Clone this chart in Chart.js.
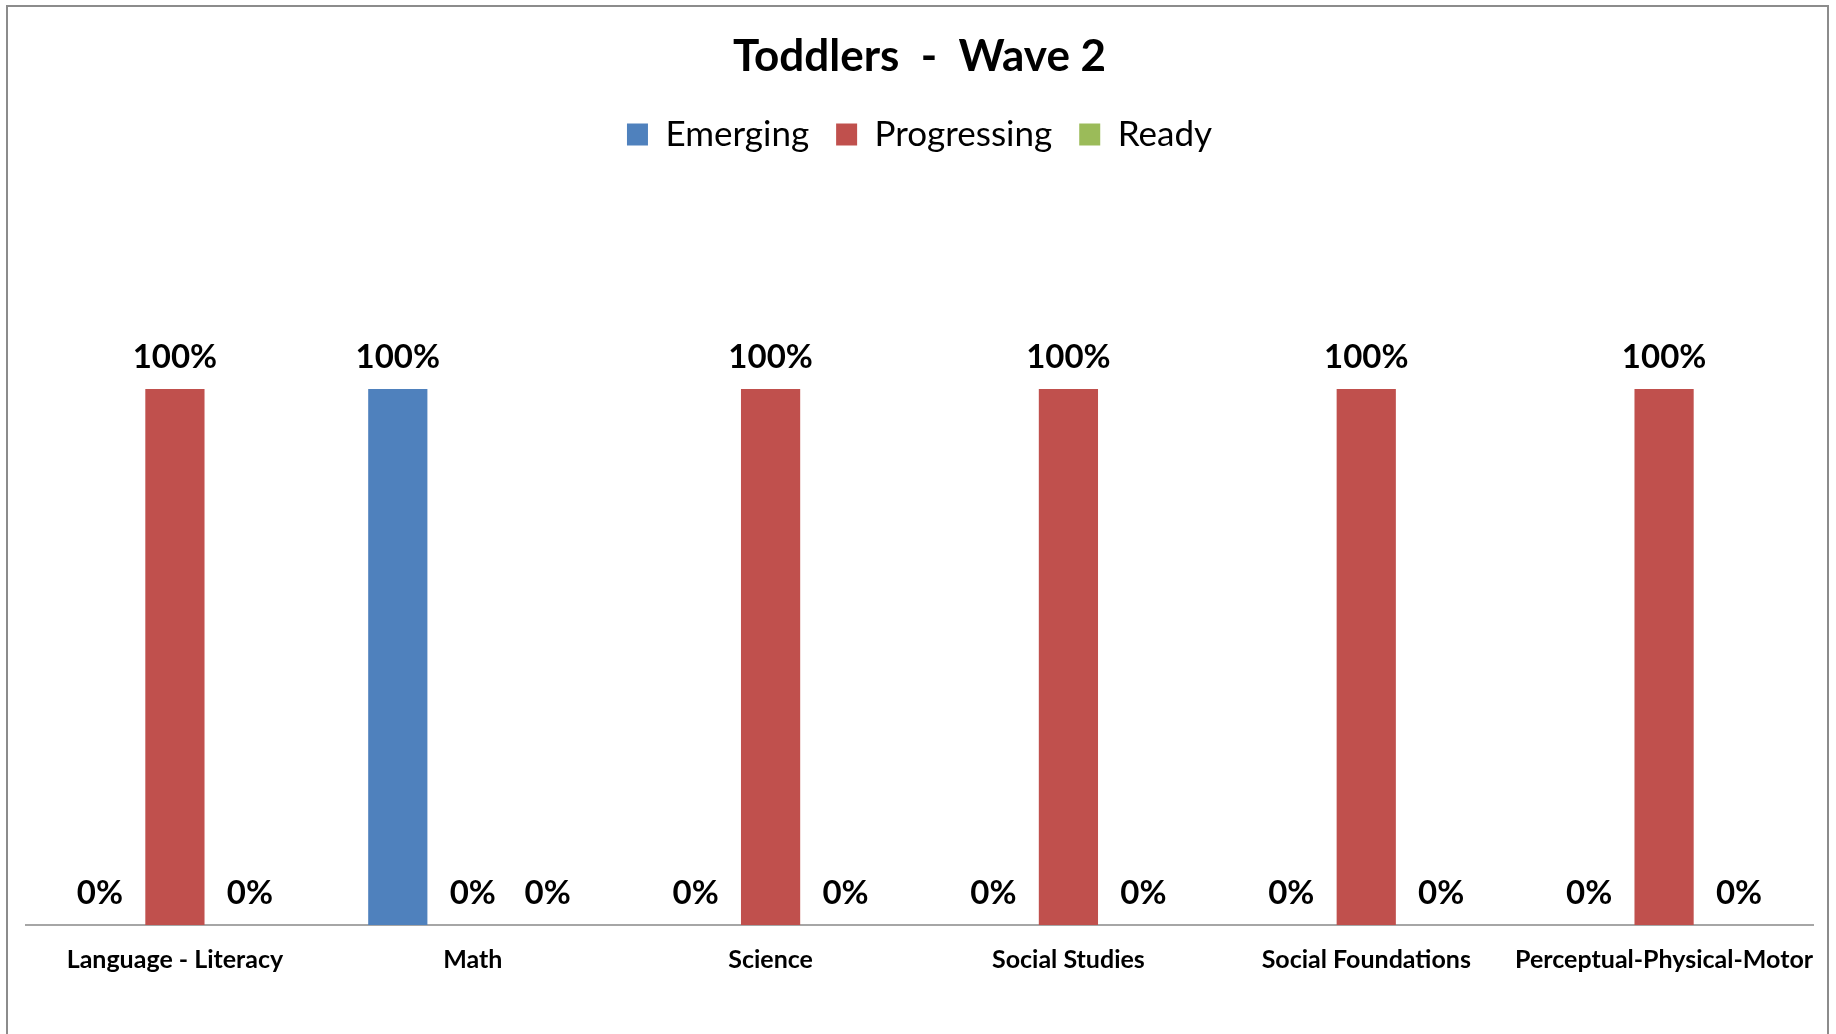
<!DOCTYPE html>
<html lang="en">
<head>
    <meta charset="UTF-8">
    <title>Toddlers - Wave 2</title>
    <script src="https://cdn.jsdelivr.net/npm/chart.js"></script>
    <style>
        * { font-family: 'Lato', sans-serif; }
        html, body { margin: 0; padding: 0; background: #fff; }
        #chartContainer {
            position: relative;
            width: 1836px;
            height: 1034px;
        }
        #frame {
            position: absolute;
            left: 6px; top: 5px;
            width: 1819px; height: 1040px;
            border: 2px solid #8c8c8c;
            pointer-events: none;
        }
    </style>
</head>
<body>
    <div id="chartContainer">
        <canvas id="waveChart"></canvas>
        <div id="frame"></div>
    </div>

    <script>
        var categories = ['Language - Literacy', 'Math', 'Science', 'Social Studies', 'Social Foundations', 'Perceptual-Physical-Motor'];
        var emerging    = [0, 1, 0, 0, 0, 0];
        var progressing = [1, 0, 1, 1, 1, 1];
        var ready       = [0, 0, 0, 0, 0, 0];

        // percent labels over every bar, 0% ones included
        var barLabels = {
            id: 'barLabels',
            afterDatasetsDraw(chart) {
                var ctx = chart.ctx;
                ctx.save();
                ctx.font = 'bold 33px Lato';
                ctx.fillStyle = '#000';
                ctx.textAlign = 'center';
                ctx.textBaseline = 'alphabetic';
                chart.data.datasets.forEach(function (ds, i) {
                    chart.getDatasetMeta(i).data.forEach(function (bar, j) {
                        ctx.fillText(Math.round(ds.data[j] * 100) + '%', bar.x, bar.y - 21);
                    });
                });
                ctx.restore();
            }
        };

        // push the plot area down below the legend
        var legendGap = {
            id: 'legendGap',
            beforeInit(chart) {
                var fit = chart.legend.fit;
                chart.legend.fit = function () {
                    fit.bind(chart.legend)();
                    this.height += 227;
                };
            }
        };

        var ctx = document.getElementById('waveChart').getContext('2d');
        var waveChart = new Chart(ctx, {
            type: 'bar',
            data: {
                labels: categories,
                datasets: [
                    { label: 'Emerging', data: emerging, backgroundColor: '#4F81BD' },
                    { label: 'Progressing', data: progressing, backgroundColor: '#C0504D' },
                    { label: 'Ready', data: ready, backgroundColor: '#9BBB59' }
                ]
            },
            options: {
                responsive: true,
                maintainAspectRatio: false,
                animation: false,
                datasets: {
                    bar: { categoryPercentage: 0.755, barPercentage: 0.79 }
                },
                layout: { padding: { top: 6, left: 26, right: 23, bottom: 47 } },
                plugins: {
                    title: {
                        display: true,
                        text: 'Toddlers  -  Wave 2',
                        color: '#000',
                        font: { family: 'Lato', size: 44, weight: 'bold', lineHeight: 1 },
                        padding: { top: 29, bottom: 11 }
                    },
                    legend: {
                        display: true,
                        position: 'top',
                        labels: {
                            color: '#000',
                            boxWidth: 21,
                            boxHeight: 22,
                            padding: 27,
                            font: { family: 'Lato', size: 35 }
                        }
                    },
                    tooltip: { enabled: false }
                },
                scales: {
                    x: {
                        grid: { display: false },
                        border: { display: true, color: '#a6a6a6', width: 2 },
                        ticks: {
                            color: '#000',
                            padding: 12,
                            autoSkip: false,
                            maxRotation: 0,
                            font: { family: 'Lato', size: 25, weight: 'bold' }
                        }
                    },
                    y: {
                        display: false,
                        min: 0,
                        max: 1
                    }
                }
            },
            plugins: [barLabels, legendGap]
        });
    </script>
</body>
</html>
